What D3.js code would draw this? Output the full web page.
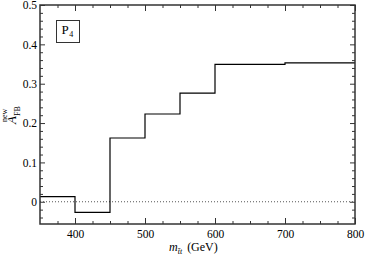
<!DOCTYPE html>
<html><head><meta charset="utf-8">
<script src="https://cdn.jsdelivr.net/npm/d3@7"></script>
<style>
html,body{margin:0;padding:0;background:#fff;}
svg{display:block;}
svg text{font-family:'Liberation Serif','Times New Roman','DejaVu Serif',serif !important;}
</style></head>
<body>
<svg id="c" width="365" height="256"></svg>
<script>
// Data
const binEdges = [350, 400, 450, 500, 550, 600, 700, 800];
const binValues = [0.013, -0.027, 0.162, 0.223, 0.276, 0.349, 0.353];
const xMajorTicks = [400, 500, 600, 700, 800];
const yMajorTicks = [0, 0.1, 0.2, 0.3, 0.4, 0.5];
const yTickLabels = ["0", "0.1", "0.2", "0.3", "0.4", "0.5"];
const xDomain = [350, 800];
const yDomain = [-0.0565, 0.5];

const svg = d3.select("#c");
const L = 40, R = 355, T = 5, B = 224;
const x = d3.scaleLinear().domain(xDomain).range([L, R]);
const y = d3.scaleLinear().domain(yDomain).range([B, T]);

const axisColor = "#333";
const fs = "11.5px";

// minor ticks
const xMinor = d3.range(375, 800, 25).filter(v => v % 100 !== 0);
const yMinor = d3.range(-0.04, 0.5, 0.02).map(v => +v.toFixed(2)).filter(v => Math.abs(v*10 - Math.round(v*10)) > 1e-6);

function styleAxis(g) {
  g.attr("font-family", null).attr("font-size", null);
  g.select(".domain").remove();
  g.selectAll(".tick line").attr("stroke", axisColor).attr("stroke-width", 1);
  g.selectAll(".tick text").style("font-size", fs).attr("fill", "#000");
}

// bottom axis
svg.append("g").attr("transform", `translate(0,${B})`)
  .call(d3.axisBottom(x).tickValues(xMajorTicks).tickSize(-6).tickPadding(5.5).tickFormat(d3.format("d")))
  .call(styleAxis);
svg.append("g").attr("transform", `translate(0,${B})`)
  .call(d3.axisBottom(x).tickValues(xMinor).tickSize(-3).tickFormat(""))
  .call(styleAxis);
// top axis
svg.append("g").attr("transform", `translate(0,${T})`)
  .call(d3.axisTop(x).tickValues(xMajorTicks).tickSize(-6).tickFormat(""))
  .call(styleAxis);
svg.append("g").attr("transform", `translate(0,${T})`)
  .call(d3.axisTop(x).tickValues(xMinor).tickSize(-3).tickFormat(""))
  .call(styleAxis);
// left axis
svg.append("g").attr("transform", `translate(${L},0)`)
  .call(d3.axisLeft(y).tickValues(yMajorTicks).tickSize(-5).tickPadding(3).tickFormat((d, i) => yTickLabels[i]))
  .call(styleAxis);
svg.append("g").attr("transform", `translate(${L},0)`)
  .call(d3.axisLeft(y).tickValues(yMinor).tickSize(-3).tickFormat(""))
  .call(styleAxis);
// right axis
svg.append("g").attr("transform", `translate(${R},0)`)
  .call(d3.axisRight(y).tickValues(yMajorTicks).tickSize(-5).tickFormat(""))
  .call(styleAxis);
svg.append("g").attr("transform", `translate(${R},0)`)
  .call(d3.axisRight(y).tickValues(yMinor).tickSize(-3).tickFormat(""))
  .call(styleAxis);

// zero dotted line
svg.append("line").attr("x1", x(350)).attr("x2", x(800)).attr("y1", y(0)).attr("y2", y(0))
  .attr("stroke", "#555").attr("stroke-width", 1).attr("stroke-dasharray", "1,2");

// step line
const pts = binValues.map((v, i) => [binEdges[i], v]);
pts.push([binEdges[binEdges.length - 1], binValues[binValues.length - 1]]);
svg.append("path")
  .attr("d", d3.line().x(d => x(d[0])).y(d => y(d[1])).curve(d3.curveStepAfter)(pts))
  .attr("fill", "none").attr("stroke", "#000").attr("stroke-width", 1.2);

// frame
svg.append("rect").attr("x", L).attr("y", T).attr("width", R - L).attr("height", B - T)
  .attr("fill", "none").attr("stroke", axisColor).attr("stroke-width", 1.5);

// P4 box
svg.append("rect").attr("x", 56.5).attr("y", 20.5).attr("width", 23).attr("height", 22)
  .attr("fill", "#fff").attr("stroke", "#333").attr("stroke-width", 1);
const pt = svg.append("text").attr("x", 61.5).attr("y", 33.5).style("font-size", "13px");
pt.append("tspan").text("P");
pt.append("tspan").style("font-size", "8px").attr("dy", 3.5).attr("dx", 0.5).text("4");

// y label
const yl = svg.append("text").attr("transform", "translate(16,124) rotate(-90)").style("font-size", "13px");
yl.append("tspan").style("font-style", "italic").text("A");
yl.append("tspan").style("font-size", "8px").attr("dy", 3.5).text("FB");
yl.append("tspan").style("font-size", "8px").attr("x", 2).attr("dy", -12.5).text("new");

// x label
const xl = svg.append("text").attr("x", 169).attr("y", 251).style("font-size", "12px");
xl.append("tspan").style("font-style", "italic").text("m");
xl.append("tspan").style("font-style", "italic").style("font-size", "8px").attr("dy", 2.5).text("t\u0304t");
xl.append("tspan").attr("dy", -2.5).attr("dx", 5).text("(GeV)");
</script>
</body></html>
